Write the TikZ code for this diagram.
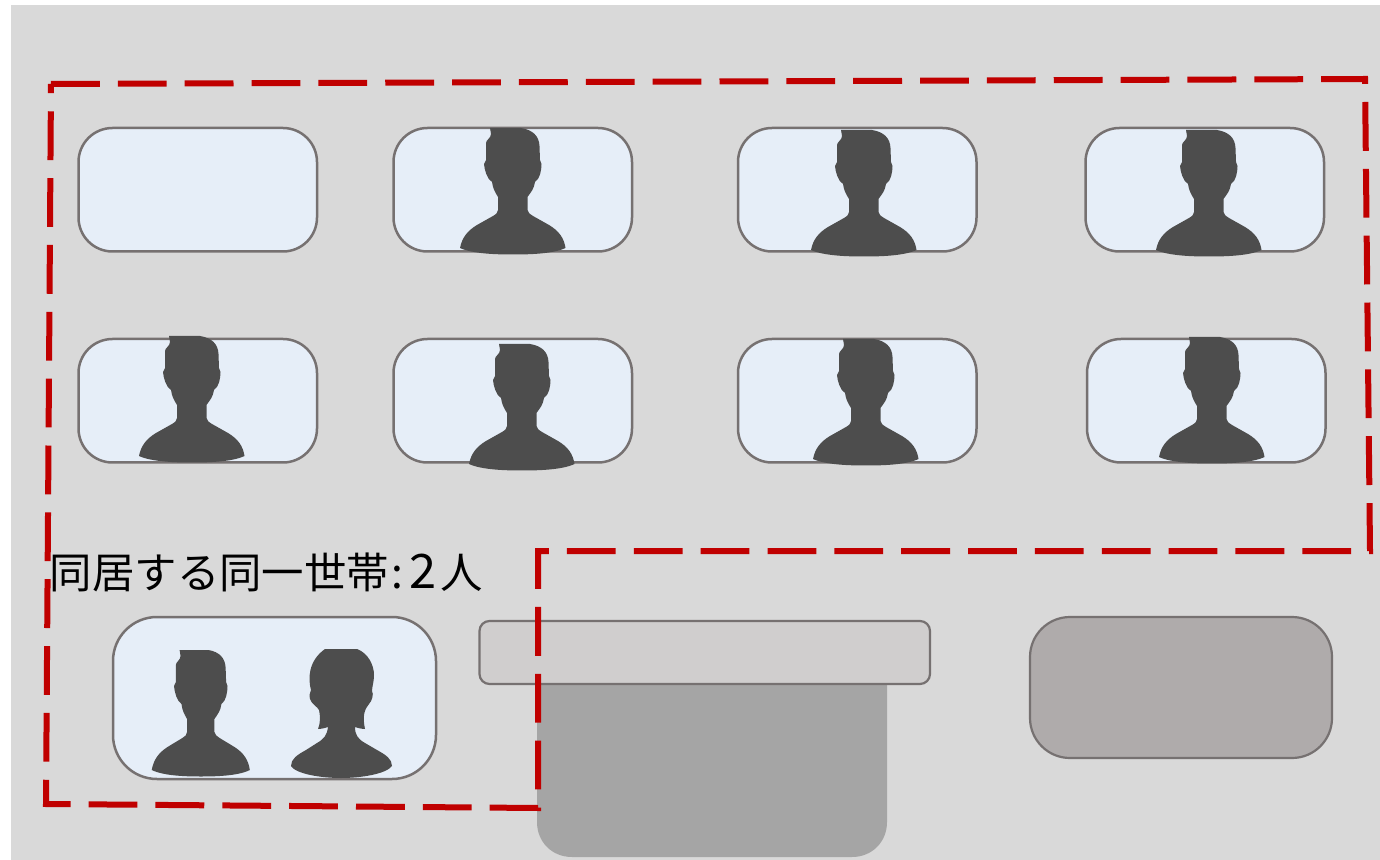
\documentclass[tikz,border=0pt]{standalone}
\usepackage{fontspec}
\newfontfamily\cjkjp{Noto Sans CJK JP}
\definecolor{bgc}{HTML}{D9D9D9}
\definecolor{cardc}{HTML}{E6EEF8}
\definecolor{edgec}{HTML}{767171}
\definecolor{figc}{HTML}{4D4D4D}
\definecolor{redc}{HTML}{C00000}
\definecolor{barc}{HTML}{D0CECE}
\definecolor{stemc}{HTML}{A5A5A5}
\definecolor{boxc}{HTML}{AFABAB}
\tikzset{
  cardbox/.style={draw=edgec,line width=1.25pt,fill=cardc,rounded corners=17pt},
  silh/.style={fill=figc,draw=none},
  maleman/.pic={\fill[silh] (-23,0) -- (8,0) .. controls (20,2) and (26,8) .. (26.5,18) -- (27,32) -- (28.5,36) .. controls (28.5,42) and (27,51) .. (22,54) .. controls (21,61) and (18,64) .. (14.5,69) -- (14.5,82) .. controls (15,85) and (17,86) .. (20,88) -- (36,97) .. controls (46,103) and (51,110) .. (52.5,120) .. controls (40,126) and (15,126.5) .. (0,126.5) .. controls (-15,126.5) and (-40,126) .. (-53,120) .. controls (-51,110) and (-46,103) .. (-36,97) -- (-20,88) .. controls (-17,86) and (-15,85) .. (-15,82) -- (-15,69) .. controls (-18,64) and (-20,61) .. (-21,54) .. controls (-26,51) and (-28.5,42) .. (-29,36) -- (-27,32) -- (-27,15) .. controls (-27,12) and (-22,10) .. (-22,6) -- cycle;},
  femaleman/.pic={\fill[silh] (-16,0) -- (16,0) .. controls (27,4) and (33,16) .. (33,26) .. controls (33,33) and (31,38) .. (31,42) .. controls (33,45) and (31,52) .. (28,55) .. controls (24,60) and (21,66) .. (24,80) .. controls (21,80) and (17,79) .. (14,78) .. controls (14,86) and (17,90) .. (24,94) -- (36,101) .. controls (45,106) and (51,110) .. (51,117) .. controls (45,125) and (20,129) .. (0,129) .. controls (-20,129) and (-45,125) .. (-50,117) .. controls (-50,110) and (-44,106) .. (-35,101) -- (-24,94) .. controls (-17,90) and (-14,86) .. (-13,78) .. controls (-16,79) and (-20,80) .. (-23,80) .. controls (-20,72) and (-21,66) .. (-22,61) .. controls (-24,57) and (-28,57) .. (-31,50) .. controls (-32,46) and (-31,44) .. (-30,41) .. controls (-33,30) and (-33,12) .. (-16,0) -- cycle;}
}
\begin{document}
\begin{tikzpicture}[x=0.5pt,y=-0.5pt]
\useasboundingbox (0,0) rectangle (1380,860);
\fill[bgc] (11,5) rectangle (1380,860);
% bars
\fill[stemc] (537,684) -- (887,684) -- (887,822) .. controls (887,842) and (872,857) .. (852,857) -- (572,857) .. controls (552,857) and (537,842) .. (537,822) -- cycle;
\draw[draw=edgec,line width=1.1pt,fill=barc,rounded corners=5pt] (479.5,621) rectangle (930,684);
\draw[draw=edgec,line width=1.1pt,fill=boxc,rounded corners=20pt] (1030,617) rectangle (1332,758);
% cards
\foreach \xa/\ya in {78.5/128,393.5/128,738/128,1085.5/128,78.5/339,393.5/339,738/339,1087/339}
  \draw[cardbox] (\xa,\ya) rectangle ++(238.5,123.5);
\draw[cardbox,rounded corners=22pt] (113,617) rectangle (436,779);
% silhouettes
\foreach \xa/\ya in {513/128,864/130,1209/130,192/336,522/344,866/339,1212/337}
  \pic at (\xa,\ya) {maleman};
\pic[xscale=.93] at (201,650) {maleman};
\pic at (341,649) {femaleman};
% dashed outline
\draw[redc,line width=3pt,dash pattern=on 24.4pt off 9.025pt,miter limit=10]
  (51,84) -- (1365,79) -- (1370,551) -- (538,551) -- (538,808) -- (46,804) -- (51,84);
\node[anchor=west,inner sep=0pt,text=black,font=\cjkjp\fontsize{21.2pt}{26pt}\selectfont] (label) at (49.5,572.5) {同居する同一世帯\hspace{1.4pt}:\hspace{3pt}\scalebox{1.15}[1.12]{2}\hspace{2pt}人};
\end{tikzpicture}
\end{document}
